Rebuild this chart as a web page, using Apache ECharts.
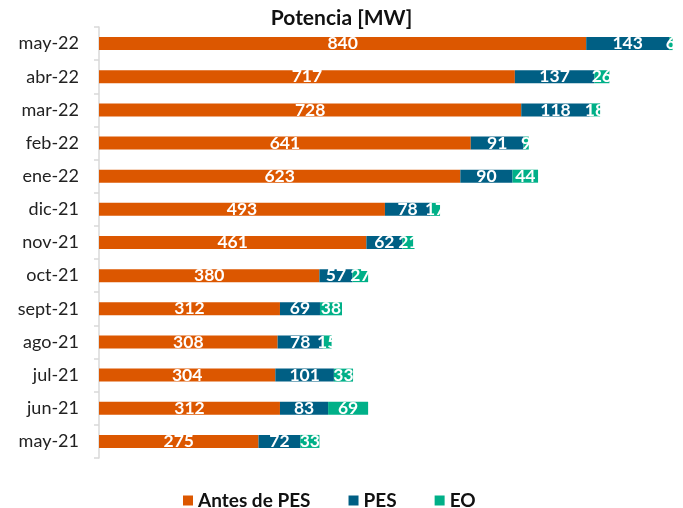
<!DOCTYPE html>
<html>
<head>
<meta charset="utf-8">
<script src="https://cdn.jsdelivr.net/npm/echarts@6/dist/echarts.min.js"></script>
<style>
  html, body { margin: 0; padding: 0; background: #fff; }
  #chart { width: 683px; height: 508px; }
</style>
</head>
<body>
<div id="chart"></div>
<script>
"use strict";
// meses, de abajo hacia arriba
var meses = ["may-21", "jun-21", "jul-21", "ago-21", "sept-21", "oct-21", "nov-21",
             "dic-21", "ene-22", "feb-22", "mar-22", "abr-22", "may-22"];
var antesPes = [275, 312, 304, 308, 312, 380, 461, 493, 623, 641, 728, 717, 840];
var pes = [72, 83, 101, 78, 69, 57, 62, 78, 90, 91, 118, 137, 143];
var eo = [33, 69, 33, 15, 38, 27, 21, 17, 44, 9, 18, 26, 6];

var fuente = "Lato, 'Open Sans', sans-serif";
var colores = ["#dc5700", "#005f84", "#00b088"];

function serie(nombre, datos, color) {
    return {
        name: nombre,
        type: "bar",
        stack: "total",
        data: datos,
        barWidth: 13,
        itemStyle: {color: color},
        label: {
            show: true,
            position: "inside",
            color: "#fff",
            fontFamily: fuente,
            fontWeight: "bold",
            fontSize: 17.5
        }
    };
}

var chart = echarts.init(document.getElementById("chart"));
chart.setOption({
    animation: false,
    title: {
        text: "Potencia [MW]",
        left: "center",
        top: 3,
        textStyle: {fontFamily: fuente, fontWeight: "bold", fontSize: 21, color: "#111"}
    },
    legend: {
        top: 486,
        left: 178,
        itemWidth: 10,
        itemHeight: 10,
        itemGap: 38,
        icon: "rect",
        textStyle: {fontFamily: fuente, fontWeight: "bold", fontSize: 19, color: "#111"},
        data: ["Antes de PES", "PES", "EO"]
    },
    grid: {left: 99, right: 4, top: 27, bottom: 50},
    xAxis: {
        type: "value",
        min: 0,
        max: 1000,
        show: false
    },
    yAxis: {
        type: "category",
        data: meses,
        axisLine: {lineStyle: {color: "#d9d9d9", width: 1.5}},
        axisTick: {show: true, length: 5, lineStyle: {color: "#d9d9d9", width: 1.5}},
        axisLabel: {fontFamily: fuente, fontSize: 18, color: "#222", margin: 20}
    },
    series: [
        serie("Antes de PES", antesPes, colores[0]),
        serie("PES", pes, colores[1]),
        serie("EO", eo, colores[2])
    ]
});
</script>
</body>
</html>
